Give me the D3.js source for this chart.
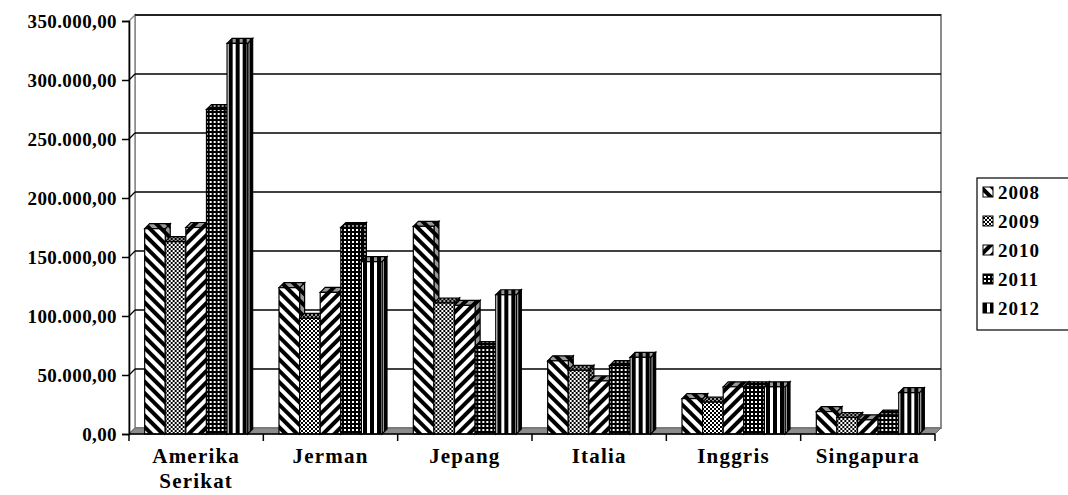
<!DOCTYPE html>
<html>
<head>
<meta charset="utf-8">
<script src="https://cdn.jsdelivr.net/npm/d3@7"></script>
<style>
  body { margin: 0; background: #fff; }
  text { font-family: "Times New Roman", "Liberation Serif", Tinos, serif; font-weight: bold; fill: #000; }
</style>
</head>
<body>
<div id="viz"></div>
<script>
// data
const categories = ["Amerika Serikat", "Jerman", "Jepang", "Italia", "Inggris", "Singapura"]
const years = ["2008", "2009", "2010", "2011", "2012"]
const v2008 = [174000, 124000, 176000, 62000, 30000, 19000]
const v2009 = [163000, 98000, 111000, 54000, 27000, 14000]
const v2010 = [175000, 120000, 109000, 45000, 40000, 12000]
const v2011 = [275000, 175000, 74000, 58000, 40000, 16000]
const v2012 = [331000, 146000, 118000, 65000, 40000, 35000]
const yTicks = [0, 50000, 100000, 150000, 200000, 250000, 300000, 350000]

const series = [v2008, v2009, v2010, v2011, v2012]
const data = categories.map((c, i) => ({
    category: c,
    values: years.map((yr, j) => ({year: yr, value: series[j][i]}))
}))

const W = 1068, H = 495
const depth = 6      // floor / wall depth
const barDepth = 5
const serif = "'Times New Roman', 'Liberation Serif', Tinos, serif"

const svg = d3.select("#viz").append("svg")
    .attr("width", W).attr("height", H)

const x0 = d3.scaleBand().domain(categories).range([129, 935])
const groupW = 103
const x1 = d3.scaleBand().domain(years).range([0, groupW])
const y = d3.scaleLinear().domain([0, 350000]).range([434, 21])

const fmt = d3.formatLocale({decimal: ",", thousands: ".", grouping: [3], currency: ["", ""]}).format(",.2f")

// patterns
const defs = svg.append("defs")
function addPatterns(suffix, bg){
    let p = defs.append("pattern").attr("id", "p2008" + suffix)
        .attr("patternUnits", "userSpaceOnUse").attr("width", 8).attr("height", 8)
        .attr("patternTransform", "rotate(-45)")
    p.append("rect").attr("width", 8).attr("height", 8).attr("fill", bg)
    p.append("rect").attr("width", 4).attr("height", 8).attr("fill", "#000")

    p = defs.append("pattern").attr("id", "p2009" + suffix)
        .attr("patternUnits", "userSpaceOnUse").attr("width", 4).attr("height", 4)
    p.append("rect").attr("width", 4).attr("height", 4).attr("fill", bg)
    p.append("rect").attr("width", 2).attr("height", 2).attr("fill", "#000")
    p.append("rect").attr("x", 2).attr("y", 2).attr("width", 2).attr("height", 2).attr("fill", "#000")

    p = defs.append("pattern").attr("id", "p2010" + suffix)
        .attr("patternUnits", "userSpaceOnUse").attr("width", 8).attr("height", 8)
        .attr("patternTransform", "rotate(45)")
    p.append("rect").attr("width", 8).attr("height", 8).attr("fill", bg)
    p.append("rect").attr("width", 4).attr("height", 8).attr("fill", "#000")

    p = defs.append("pattern").attr("id", "p2011" + suffix)
        .attr("patternUnits", "userSpaceOnUse").attr("width", 4).attr("height", 4)
    p.append("rect").attr("width", 4).attr("height", 4).attr("fill", "#000")
    p.append("rect").attr("x", 1).attr("y", 1).attr("width", 2).attr("height", 2).attr("fill", bg)

    p = defs.append("pattern").attr("id", "p2012" + suffix)
        .attr("patternUnits", "userSpaceOnUse").attr("width", 7).attr("height", 7)
    p.append("rect").attr("width", 7).attr("height", 7).attr("fill", bg)
    p.append("rect").attr("width", 4).attr("height", 7).attr("fill", "#000")
}
addPatterns("", "#fff")
addPatterns("s", "#999")

const xL = x0.range()[0], xR = x0.range()[1]
const y0 = y(0), yTop = y(350000)

// back wall
svg.append("rect")
    .attr("x", xL + depth).attr("y", yTop - depth)
    .attr("width", xR - xL).attr("height", y0 - yTop)
    .attr("fill", "#fff").attr("stroke", "#8c8c8c").attr("stroke-width", 2)

// left wall
svg.append("path")
    .attr("d", `M${xL},${y0}L${xL},${yTop}L${xL + depth},${yTop - depth}L${xL + depth},${y0 - depth}Z`)
    .attr("fill", "#fff").attr("stroke", "#8c8c8c").attr("stroke-width", 1.5)

// gridlines on back wall + diagonals on the left wall
svg.append("g").selectAll("line.grid")
    .data(yTicks.filter(d => d > 0))
    .enter().append("line")
    .attr("x1", xL + depth).attr("x2", xR + depth)
    .attr("y1", d => y(d) - depth).attr("y2", d => y(d) - depth)
    .attr("stroke", "#000").attr("stroke-width", 1.6)

svg.append("g").selectAll("line.diag")
    .data(yTicks.filter(d => d > 0 && d < 350000))
    .enter().append("line")
    .attr("x1", xL).attr("x2", xL + depth)
    .attr("y1", d => y(d)).attr("y2", d => y(d) - depth)
    .attr("stroke", "#000").attr("stroke-width", 1.2)

// floor
svg.append("path")
    .attr("d", `M${xL},${y0}L${xL + depth},${y0 - depth}L${xR + depth},${y0 - depth}L${xR},${y0}Z`)
    .attr("fill", "#8c8c8c").attr("stroke", "#666").attr("stroke-width", 1)

// bars
const groups = svg.append("g").selectAll("g.cat")
    .data(data)
    .enter().append("g")
    .attr("class", "cat")
    .attr("transform", d => "translate(" + (x0(d.category) + (x0.bandwidth() - groupW) / 2) + ",0)")

groups.each(function(d){
    const g = d3.select(this)
    d.values.forEach(b => {
        const bx = x1(b.year), bw = x1.bandwidth(), yt = y(b.value)
        const bar = g.append("g")
        bar.append("path")
            .attr("d", `M${bx + bw},${y0}L${bx + bw + barDepth},${y0 - barDepth}L${bx + bw + barDepth},${yt - barDepth}L${bx + bw},${yt}Z`)
            .attr("fill", "url(#p" + b.year + "s)")
            .attr("stroke", "#000").attr("stroke-width", 1.2)
        bar.append("path")
            .attr("d", `M${bx},${yt}L${bx + barDepth},${yt - barDepth}L${bx + bw + barDepth},${yt - barDepth}L${bx + bw},${yt}Z`)
            .attr("fill", "url(#p" + b.year + "s)")
            .attr("stroke", "#000").attr("stroke-width", 1.2)
        bar.append("rect")
            .attr("x", bx).attr("y", yt)
            .attr("width", bw).attr("height", y0 - yt)
            .attr("fill", "url(#p" + b.year + ")")
            .attr("stroke", "#000").attr("stroke-width", 1.2)
    })
})

// y axis
const yAxis = svg.append("g")
    .attr("transform", "translate(" + xL + ",0)")
    .call(d3.axisLeft(y).tickValues(yTicks).tickSize(7).tickPadding(5).tickFormat(fmt))
yAxis.attr("font-family", serif)
yAxis.select(".domain").attr("stroke", "#000").attr("stroke-width", 1.6)
yAxis.selectAll(".tick line").attr("stroke", "#000").attr("stroke-width", 1.5)
yAxis.selectAll(".tick text")
    .attr("font-family", serif)
    .attr("font-weight", "bold")
    .attr("font-size", 19)
    .attr("letter-spacing", 0.4)
    .attr("fill", "#000")

// x axis line + boundary ticks
svg.append("line")
    .attr("x1", xL).attr("x2", xR).attr("y1", y0).attr("y2", y0)
    .attr("stroke", "#000").attr("stroke-width", 1.5)
svg.append("g").selectAll("line")
    .data(categories.map(c => x0(c)).concat([xR]))
    .enter().append("line")
    .attr("x1", d => d).attr("x2", d => d)
    .attr("y1", y0).attr("y2", y0 + 7)
    .attr("stroke", "#000").attr("stroke-width", 1.5)

const catLabels = svg.append("g").selectAll("text")
    .data(categories)
    .enter().append("text")
    .attr("text-anchor", "middle")
    .attr("font-family", serif)
    .attr("font-size", 21)
    .attr("letter-spacing", 1.2)
    .attr("transform", d => "translate(" + (x0(d) + x0.bandwidth() / 2) + "," + 463 + ")")
catLabels.selectAll("tspan")
    .data(d => d.split(" "))
    .enter().append("tspan")
    .attr("x", 0)
    .attr("y", (d, i) => i * 25)
    .text(d => d)

// legend
const legend = svg.append("g").attr("transform", "translate(977,178)")
legend.append("rect")
    .attr("width", 100).attr("height", 152)
    .attr("fill", "#fff").attr("stroke", "#000").attr("stroke-width", 1.2)
const items = legend.selectAll("g.item")
    .data(years)
    .enter().append("g")
    .attr("class", "item")
    .attr("transform", (d, i) => "translate(6," + (14 + i * 29) + ")")
items.append("rect")
    .attr("x", 0).attr("y", -5).attr("width", 10).attr("height", 10)
    .attr("fill", d => "url(#p" + d + ")")
    .attr("stroke", "#000").attr("stroke-width", 1)
items.append("text")
    .attr("x", 15).attr("dy", "0.35em")
    .attr("font-family", serif)
    .attr("font-size", 19)
    .attr("letter-spacing", 1)
    .text(d => d)
</script>
</body>
</html>
